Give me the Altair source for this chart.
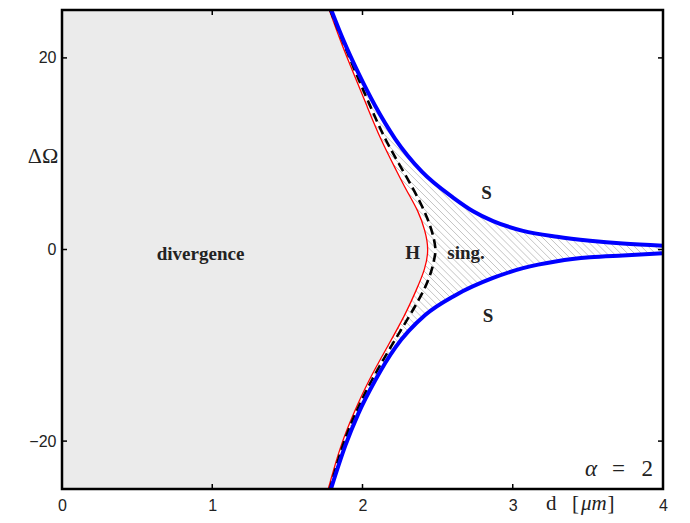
import altair as alt
import numpy as np
import pandas as pd

# ---- data ----
# upper S (saddle-node) branch, blue
s_up_d = [1.792, 1.874, 1.973, 2.084, 2.217, 2.395, 2.605, 2.736, 2.869, 3.068, 3.295, 3.514, 3.733, 4.0]
s_up_w = [25.0, 21.8, 18.4, 15.0, 11.56, 8.13, 5.40, 4.0, 2.97, 1.95, 1.33, 0.92, 0.62, 0.40]
# lower S branch, blue
s_lo_d = [1.790, 1.885, 1.973, 2.084, 2.217, 2.417, 2.616, 2.869, 3.068, 3.295, 3.514, 3.733, 4.0]
s_lo_w = [-25.0, -20.5, -17.1, -13.67, -10.26, -6.84, -4.79, -2.97, -1.95, -1.23, -0.82, -0.62, -0.40]
# H (Hopf) boundary of divergence region, red
hopf_w = [25.0, 21.8, 18.4, 15.0, 11.56, 8.13, 6.08, 4.03, 1.98, 0.0, -2.05, -4.10, -6.84, -10.26, -13.67, -17.1, -20.5, -25.0]
hopf_d = [1.779, 1.852, 1.940, 2.029, 2.118, 2.229, 2.295, 2.372, 2.417, 2.442, 2.417, 2.362, 2.284, 2.162, 2.040, 1.940, 1.852, 1.772]
# singular boundary, black dashed
sing_w = [25.0, 21.8, 18.4, 15.0, 11.56, 8.13, 4.72, 1.98, 0.0, -0.69, -2.05, -4.10, -6.84, -10.26, -13.67, -17.1, -20.5, -25.0]
sing_d = [1.785, 1.867, 1.956, 2.051, 2.146, 2.273, 2.395, 2.465, 2.490, 2.481, 2.465, 2.417, 2.317, 2.184, 2.058, 1.951, 1.863, 1.783]

x_ticks = [0, 1, 2, 3, 4]
y_ticks = [-20, 0, 20]

region_labels = ["divergence", "H", "sing.", "S", "S"]
region_d = [0.922, 2.333, 2.689, 2.825, 2.835]
region_w = [-0.5, -0.4, -0.4, 5.9, -6.97]

W, H = 601, 479
XD = [0, 4]
YD = [-25, 25]

xs = alt.Scale(domain=XD, nice=False, zero=False)
ys = alt.Scale(domain=YD, nice=False, zero=False)

up = pd.DataFrame({"d": s_up_d, "w": s_up_w, "top": YD[1]})
lo = pd.DataFrame({"d": s_lo_d, "w": s_lo_w, "bot": YD[0]})
hopf = pd.DataFrame({"d": hopf_d, "w": hopf_w, "i": range(len(hopf_d)), "zero": 0.0})
sing = pd.DataFrame({"d": sing_d, "w": sing_w, "i": range(len(sing_d))})

# hatch pattern (decoration) at 45 degrees in pixel space
slope = (W / (XD[1] - XD[0])) / (H / (YD[1] - YD[0]))
half = YD[1] / slope
cs = np.arange(0.15, 5.7, 0.046)
hatch_df = pd.DataFrame({"x1": cs - half, "x2": cs + half, "y1": float(YD[1]), "y2": float(YD[0])})

xaxis = alt.Axis(values=x_ticks, ticks=False, domain=False, grid=False, labelFlush=False,
                 labelFont="Liberation Sans", labelFontSize=16, labelColor="#222",
                 labelPadding=8, format="d", title=None)
yaxis = alt.Axis(values=y_ticks, ticks=False, domain=False, grid=False, labelFlush=False,
                 labelFont="Liberation Sans", labelFontSize=16, labelColor="#222",
                 labelPadding=6, format="d", title=None)


def X(field):
    return alt.X(field, scale=xs, axis=xaxis)


def Y(field):
    return alt.Y(field, scale=ys, axis=yaxis)


hatch = alt.Chart(hatch_df).mark_rule(clip=True, color="#bdbdbd", strokeWidth=0.9).encode(
    x=X("x1:Q"), x2="x2:Q", y=Y("y1:Q"), y2="y2:Q")

mask_up = alt.Chart(up).mark_area(color="white", interpolate="monotone", clip=True).encode(
    x=X("d:Q"), y=Y("w:Q"), y2="top:Q")
mask_lo = alt.Chart(lo).mark_area(color="white", interpolate="monotone", clip=True).encode(
    x=X("d:Q"), y=Y("w:Q"), y2="bot:Q")

gray = alt.Chart(hopf).mark_area(color="#ebebeb", orient="horizontal", interpolate="basis", clip=True).encode(
    y=Y("w:Q"), x=X("d:Q"), x2="zero:Q")

red = alt.Chart(hopf).mark_line(color="#ff0000", strokeWidth=1.3, interpolate="basis", clip=True).encode(
    x=X("d:Q"), y=Y("w:Q"), order="i:Q")

dashed = alt.Chart(sing).mark_line(color="black", strokeWidth=2.6, strokeDash=[9, 5], interpolate="basis", clip=True).encode(
    x=X("d:Q"), y=Y("w:Q"), order="i:Q")

blue_up = alt.Chart(up).mark_line(color="#0000ff", strokeWidth=4, interpolate="monotone", clip=True).encode(
    x=X("d:Q"), y=Y("w:Q"))
blue_lo = alt.Chart(lo).mark_line(color="#0000ff", strokeWidth=4, interpolate="monotone", clip=True).encode(
    x=X("d:Q"), y=Y("w:Q"))

xt = pd.DataFrame({"t": x_ticks})
yt = pd.DataFrame({"t": y_ticks})
tick_b = alt.Chart(xt).mark_rule(color="black", strokeWidth=1.5).encode(
    x=X("t:Q"), y=alt.value(H), y2=alt.value(H - 5))
tick_t = alt.Chart(xt).mark_rule(color="black", strokeWidth=1.5).encode(
    x=X("t:Q"), y=alt.value(0), y2=alt.value(5))
tick_l = alt.Chart(yt).mark_rule(color="black", strokeWidth=1.5).encode(
    y=Y("t:Q"), x=alt.value(0), x2=alt.value(5))
tick_r = alt.Chart(yt).mark_rule(color="black", strokeWidth=1.5).encode(
    y=Y("t:Q"), x=alt.value(W), x2=alt.value(W - 5))

frame = alt.Chart(pd.DataFrame({"k": [0]})).mark_rect(filled=False, stroke="black", strokeWidth=2.5).encode(
    x=alt.value(0), x2=alt.value(W), y=alt.value(0), y2=alt.value(H))

lab_df = pd.DataFrame({"text": region_labels, "d": region_d, "w": region_w})
labels = alt.Chart(lab_df).mark_text(font="Liberation Serif", fontWeight="bold", fontSize=19,
                                     color="#222", baseline="middle", align="center").encode(
    x=X("d:Q"), y=Y("w:Q"), text="text:N")


def txt(texts, ds, ws, align, style="normal", size=22):
    df = pd.DataFrame({"text": texts, "d": ds, "w": ws})
    return alt.Chart(df).mark_text(font="Liberation Serif", fontStyle=style, fontSize=size,
                                   color="#222", baseline="middle", align=align).encode(
        x=X("d:Q"), y=Y("w:Q"), text="text:N")


# axis titles and parameter annotation (mixed upright / italic)
t_left = txt(["d", "[", "]"], [3.221, 3.394, 3.63], [-26.57, -26.57, -26.57], "left", size=21)
t_ital_x = txt(["μm"], [3.454], [-26.57], "left", "italic", size=21)
t_alpha = txt(["α"], [3.481], [-22.91], "left", "italic", size=23)
t_eq = txt(["="], [3.661], [-22.91], "left", size=23)
t_two = txt(["2"], [3.933], [-22.91], "right", size=23)
t_center = txt(["ΔΩ"], [-0.126], [9.76], "center")

chart = alt.layer(hatch, mask_up, mask_lo, gray, red, dashed, blue_up, blue_lo,
                  tick_b, tick_t, tick_l, tick_r, frame, labels, t_left, t_ital_x, t_alpha, t_eq, t_two,
                  t_center).properties(
    width=W, height=H,
    autosize=alt.AutoSizeParams(type="none"),
    padding={"left": 54, "top": 2, "right": 19, "bottom": 26},
).configure_view(stroke=None)

chart.save("out.html", embed_options={"renderer": "svg", "actions": False})
